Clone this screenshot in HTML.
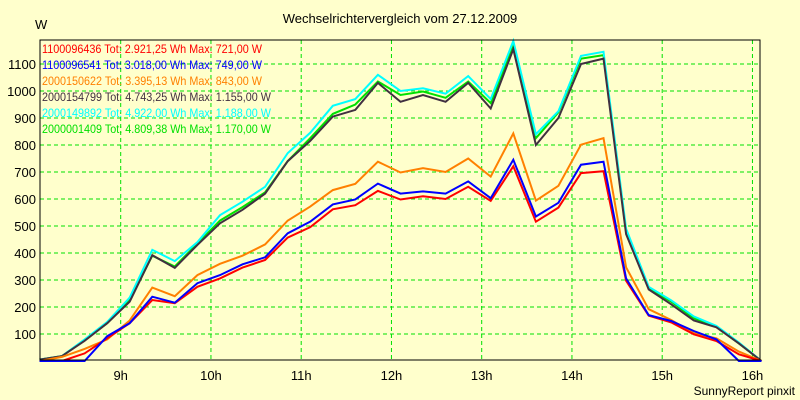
<!DOCTYPE html>
<html><head><meta charset="utf-8"><style>
body{margin:0;background:#ffffcc;}
svg{display:block;font-family:"Liberation Sans",sans-serif;}
</style></head><body>
<svg id="chart" width="800" height="400">
<rect width="800" height="400" fill="#ffffcc"/>
<text x="400" y="23" text-anchor="middle" font-size="13">Wechselrichtervergleich vom 27.12.2009</text>
<text x="35" y="29" font-size="13">W</text>
<text x="795" y="395" text-anchor="end" font-size="12">SunnyReport pinxit</text>
<g id="grid"></g><g id="lines"></g><g id="legend"></g>
<rect x="40" y="40" width="720" height="320" fill="none" stroke="#000" stroke-width="1"/>
</svg>
<script>
const yTicks=[100,200,300,400,500,600,700,800,900,1000,1100];
const xTicks=[9,10,11,12,13,14,15,16];
const tStart=8.1, tStep=0.25;
const names=["1100096436","1100096541","2000150622","2000154799","2000149892","2000001409"];
const totals=["2.921,25","3.018,00","3.395,13","4.743,25","4.922,00","4.809,38"];
const maxes=["721,00","749,00","843,00","1.155,00","1.188,00","1.170,00"];
const colors=["#ff0000","#0000ff","#ff8000","#403040","#00ffff","#00e000"];
const sRed=[0,0,28,84,140,226,214,275,306,346,374,457,496,562,577,630,598,610,600,645,593,721,516,568,696,703,297,168,143,99,74,25,0];
const sBlue=[0,0,0,92,140,238,216,288,318,358,384,473,516,580,598,657,620,628,620,665,603,745,535,586,727,738,306,170,148,111,80,0,0];
const sOrange=[0,15,45,80,150,272,240,318,360,390,432,520,572,633,656,738,698,714,700,750,683,843,594,649,801,825,347,192,152,103,84,35,0];
const sDark=[5,18,75,140,220,392,345,430,510,560,620,740,815,905,930,1030,960,985,960,1030,935,1155,800,900,1100,1120,470,265,210,150,125,65,0];
const sCyan=[5,18,80,145,235,412,370,440,540,590,645,770,845,945,970,1060,1000,1010,990,1055,970,1185,840,925,1130,1145,490,275,225,165,130,68,0];
const sGreen=[5,18,78,140,225,390,350,435,520,570,625,740,825,915,950,1035,985,998,975,1035,955,1165,825,921,1120,1133,478,268,220,158,127,65,0];
const series=[sRed,sBlue,sOrange,sDark,sCyan,sGreen];
const NS="http://www.w3.org/2000/svg";
const X=t=>120.7+(t-9)*90.25;
const Y=v=>361-v*0.27;
const grid=document.getElementById('grid');
yTicks.forEach(v=>{
 const l=document.createElementNS(NS,'line');
 l.setAttribute('x1',40);l.setAttribute('x2',760);l.setAttribute('y1',Y(v));l.setAttribute('y2',Y(v));
 l.setAttribute('stroke','#00e000');l.setAttribute('stroke-dasharray','4,3');
 
 
 grid.appendChild(l);
 const t=document.createElementNS(NS,'text');
 t.setAttribute('x',36);t.setAttribute('y',Y(v)+5);t.setAttribute('text-anchor','end');t.setAttribute('font-size','13');
 t.textContent=v;
 
 
 grid.appendChild(t);
});
xTicks.forEach(h=>{
 const l=document.createElementNS(NS,'line');
 l.setAttribute('x1',X(h));l.setAttribute('x2',X(h));l.setAttribute('y1',40);l.setAttribute('y2',360);
 l.setAttribute('stroke','#00e000');l.setAttribute('stroke-dasharray','4,3');
 
 
 grid.appendChild(l);
 const t=document.createElementNS(NS,'text');
 t.setAttribute('x',X(h));t.setAttribute('y',380);t.setAttribute('text-anchor','middle');t.setAttribute('font-size','13');
 t.textContent=h+'h';
 
 
 grid.appendChild(t);
});
const lines=document.getElementById('lines');
[5,4,3,2,0,1].forEach(i=>{
 const p=document.createElementNS(NS,'polyline');
 p.setAttribute('points',series[i].map((v,k)=>X(tStart+k*tStep).toFixed(1)+','+Y(v).toFixed(1)).join(' '));
 p.setAttribute('fill','none');p.setAttribute('stroke',colors[i]);p.setAttribute('stroke-width','2');
 
 
 lines.appendChild(p);
});
const lg=document.getElementById('legend');
names.forEach((n,i)=>{
 const t=document.createElementNS(NS,'text');
 t.setAttribute('x',42);t.setAttribute('y',53+i*16);t.setAttribute('font-size','12');t.setAttribute('fill',colors[i]);
 t.setAttribute('textLength',i<3?220:229);t.setAttribute('lengthAdjust','spacingAndGlyphs');
 t.textContent=n+' Tot: '+totals[i]+' Wh Max: '+maxes[i]+' W';
 
 
 lg.appendChild(t);
});
</script>
</body></html>
